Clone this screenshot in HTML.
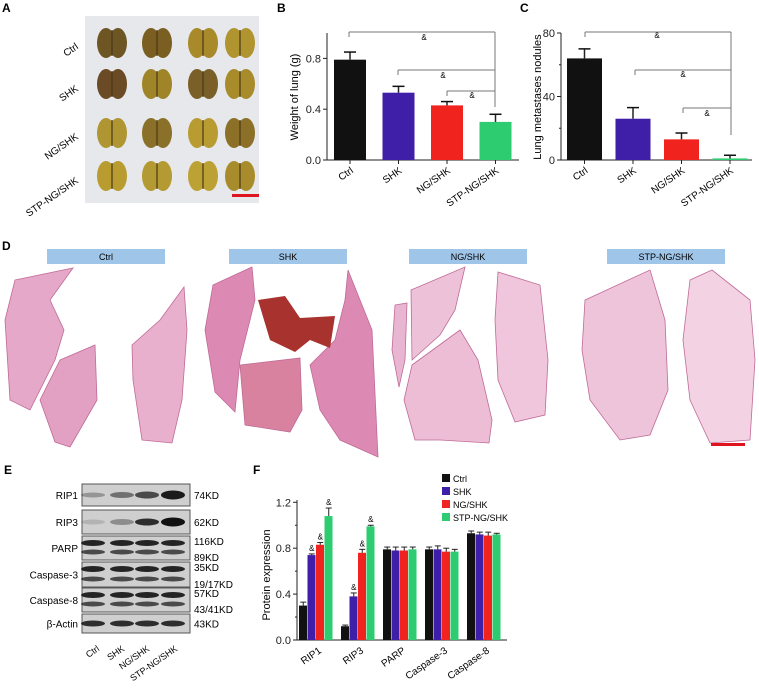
<!DOCTYPE html>
<html><head><meta charset="utf-8"><style>
html,body{margin:0;padding:0;background:#fff;}
svg{display:block;font-family:"Liberation Sans",Arial,sans-serif;}
</style></head><body>
<svg id="fig" width="759" height="694" viewBox="0 0 759 694" xmlns="http://www.w3.org/2000/svg">
<g id="panelA">
<text x="2" y="12" font-size="12" font-weight="bold">A</text>
<rect x="85" y="16" width="174" height="187" fill="#e7e8ec"/>
<g id="lungPhotos"></g>
<rect x="232" y="194" width="27" height="3" fill="#e0141e"/>
<text transform="translate(79,48) rotate(-35)" text-anchor="end" font-size="10">Ctrl</text>
<text transform="translate(79,90) rotate(-35)" text-anchor="end" font-size="10">SHK</text>
<text transform="translate(79,138) rotate(-35)" text-anchor="end" font-size="10">NG/SHK</text>
<text transform="translate(79,182) rotate(-35)" text-anchor="end" font-size="10">STP-NG/SHK</text>
</g>
<g id="panelB"><text x="277" y="12" font-size="12" font-weight="bold">B</text></g>
<g id="panelC"><text x="520" y="12" font-size="12" font-weight="bold">C</text></g>
<g id="panelD">
<text x="2" y="250" font-size="12" font-weight="bold">D</text>
<rect x="47" y="249" width="118" height="15" fill="#9fc5e8"/>
<text x="106" y="260" font-size="9" text-anchor="middle">Ctrl</text>
<rect x="229" y="249" width="118" height="15" fill="#9fc5e8"/>
<text x="288" y="260" font-size="9" text-anchor="middle">SHK</text>
<rect x="409" y="249" width="118" height="15" fill="#9fc5e8"/>
<text x="468" y="260" font-size="9" text-anchor="middle">NG/SHK</text>
<rect x="607" y="249" width="118" height="15" fill="#9fc5e8"/>
<text x="666" y="260" font-size="9" text-anchor="middle">STP-NG/SHK</text>
<g stroke="#c06a98" stroke-width="0.8">
<polygon fill="#e6a8c8" points="15,280 73,268 50,300 64,330 55,360 30,410 10,400 5,320"/>
<polygon fill="#e2a0c2" points="60,360 95,345 97,400 70,447 55,442 40,400"/>
<polygon fill="#e8b0cc" points="184,287 187,330 182,400 172,443 142,440 133,380 132,345 160,320"/>
<polygon fill="#dc8ab3" points="213,285 252,267 255,300 240,360 235,412 215,392 205,330"/>
<polygon fill="#d8829f" points="240,365 300,358 302,410 290,432 245,425"/>
<polygon fill="#dc8ab3" points="348,270 372,330 378,457 340,440 320,410 310,365 335,340 345,300"/>
<polygon fill="#a8322e" stroke="none" points="258,300 285,296 300,318 335,316 330,348 310,340 295,352 270,340"/>
<polygon fill="#e8b6d0" points="395,305 407,303 405,360 399,387 392,350"/>
<polygon fill="#edc2d8" points="411,290 465,267 455,310 440,335 412,360"/>
<polygon fill="#ecbdd5" points="412,365 460,330 478,360 492,420 489,443 440,440 415,440 404,400"/>
<polygon fill="#efc6db" points="498,272 540,285 548,360 545,415 515,422 498,380 495,320"/>
<polygon fill="#eec4da" points="585,300 650,270 665,320 668,390 650,435 620,440 590,400 582,350"/>
<polygon fill="#f3d3e3" points="690,280 712,270 750,300 755,360 750,440 710,443 690,400 683,340"/>
</g>
<rect x="711" y="443" width="34" height="3" fill="#e0141e"/>
</g>
<g id="panelE">
<text x="4" y="474" font-size="12" font-weight="bold">E</text>
<g id="blots"></g>
<text transform="translate(100,650) rotate(-35)" text-anchor="end" font-size="9">Ctrl</text>
<text transform="translate(125,650) rotate(-35)" text-anchor="end" font-size="9">SHK</text>
<text transform="translate(150,650) rotate(-35)" text-anchor="end" font-size="9">NG/SHK</text>
<text transform="translate(178,650) rotate(-35)" text-anchor="end" font-size="9">STP-NG/SHK</text>
</g>
<g id="panelF"><text x="253" y="474" font-size="12" font-weight="bold">F</text></g>
</svg>
<script>
const NS="http://www.w3.org/2000/svg";
function mk(parent,tag,attrs,txt){const e=document.createElementNS(NS,tag);for(const k in attrs)e.setAttribute(k,attrs[k]);if(txt!==undefined)e.textContent=txt;parent.appendChild(e);return e;}

// ---- Panel B data ----
const groupsBC=["Ctrl","SHK","NG/SHK","STP-NG/SHK"];
const colorsBC=["#111111","#3f1ea8","#f0231e","#2ecc71"];
const weightVals=[0.79,0.53,0.43,0.30];
const weightErr=[0.06,0.05,0.03,0.06];
const weightTicks=[0,0.4,0.8];
const weightTickLabels=["0.0","0.4","0.8"];
// ---- Panel C data ----
const noduleVals=[64,26,13,1];
const noduleErr=[6,7,4,2];
const noduleTicks=[0,40,80];
const noduleTickLabels=["0","40","80"];
const noduleMinor=[20,60];
// ---- Panel F data ----
const proteins=["RIP1","RIP3","PARP","Caspase-3","Caspase-8"];
const fSeries=["Ctrl","SHK","NG/SHK","STP-NG/SHK"];
const fCtrl=[0.30,0.12,0.79,0.79,0.93];
const fSHK=[0.74,0.38,0.78,0.79,0.92];
const fNG=[0.83,0.76,0.78,0.77,0.91];
const fSTP=[1.08,0.99,0.79,0.77,0.92];
const fCtrlErr=[0.03,0.01,0.02,0.02,0.02];
const fSHKErr=[0.01,0.03,0.03,0.03,0.02];
const fNGErr=[0.02,0.03,0.03,0.03,0.03];
const fSTPErr=[0.07,0.01,0.02,0.02,0.01];
const fTicks=[0,0.4,0.8,1.2];
const fTickLabels=["0.0","0.4","0.8","1.2"];

function barChart(g,opt){
  const y=v=>opt.y0-(v-opt.vmin)/(opt.vmax-opt.vmin)*(opt.y0-opt.ytop);
  mk(g,"line",{x1:opt.x0,y1:opt.ytop,x2:opt.x0,y2:opt.y0,stroke:"#222","stroke-width":1});
  mk(g,"line",{x1:opt.x0,y1:opt.y0,x2:opt.xend,y2:opt.y0,stroke:"#222","stroke-width":1});
  opt.ticks.forEach((t,i)=>{
    const tk=mk(g,"line",{x1:opt.x0-4,y1:y(t),x2:opt.x0,y2:y(t),stroke:"#222"});
    
    
    const tl=mk(g,"text",{x:opt.x0-6,y:y(t)+4,"text-anchor":"end","font-size":11,fill:"#222"},opt.labels[i]);
    
    
  });
  (opt.minor||[]).forEach(t=>{mk(g,"line",{x1:opt.x0-2,y1:y(t),x2:opt.x0,y2:y(t),stroke:"#222"});});
  return y;
}

// Panel B
(function(){
  const g=document.getElementById("panelB");
  const x0=327,bw=32,pitch=48.5,start=334;
  const y=barChart(g,{x0:x0,y0:160,ytop:33,xend:519,vmin:0,vmax:1.0,ticks:weightTicks,labels:weightTickLabels});
  weightVals.forEach((v,i)=>{
    const bx=start+i*pitch, cx=bx+bw/2;
    const r=mk(g,"rect",{x:bx,y:y(v),width:bw,height:160-y(v),fill:colorsBC[i]});
    
    
    mk(g,"line",{x1:cx,y1:y(v),x2:cx,y2:y(v+weightErr[i]),stroke:"#222","stroke-width":1.5});
    mk(g,"line",{x1:cx-6,y1:y(v+weightErr[i]),x2:cx+6,y2:y(v+weightErr[i]),stroke:"#111","stroke-width":1.5});
    mk(g,"line",{x1:cx,y1:160,x2:cx,y2:164,stroke:"#222"});
    const t=mk(g,"text",{transform:`translate(${cx+4},${172}) rotate(-35)`,"text-anchor":"end","font-size":10},groupsBC[i]);
    
    
  });
  const yl=mk(g,"text",{transform:"translate(298,97) rotate(-90)","text-anchor":"middle","font-size":11},"Weight of lung (g)");
  
  
  const br=[[349,32,424,40],[398,70,443,78],[447,91,472,98]];
  br.forEach(b=>{mk(g,"line",{x1:b[0],y1:b[1],x2:495,y2:b[1],stroke:"#777"});mk(g,"line",{x1:b[0],y1:b[1],x2:b[0],y2:b[1]+5,stroke:"#777"});mk(g,"text",{x:b[2],y:b[3],"font-size":8,"text-anchor":"middle"},"&");});
  mk(g,"line",{x1:495,y1:32,x2:495,y2:107,stroke:"#777"});
})();

// Panel C
(function(){
  const g=document.getElementById("panelC");
  const x0=561,bw=35,pitch=48.5,start=567;
  const y=barChart(g,{x0:x0,y0:160,ytop:33,xend:752,vmin:0,vmax:80,ticks:noduleTicks,labels:noduleTickLabels,minor:noduleMinor});
  noduleVals.forEach((v,i)=>{
    const bx=start+i*pitch, cx=bx+bw/2;
    const r=mk(g,"rect",{x:bx,y:y(v),width:bw,height:160-y(v),fill:colorsBC[i]});
    
    
    mk(g,"line",{x1:cx,y1:y(v),x2:cx,y2:y(v+noduleErr[i]),stroke:"#222","stroke-width":1.5});
    mk(g,"line",{x1:cx-6,y1:y(v+noduleErr[i]),x2:cx+6,y2:y(v+noduleErr[i]),stroke:"#111","stroke-width":1.5});
    mk(g,"line",{x1:cx,y1:160,x2:cx,y2:164,stroke:"#222"});
    const t=mk(g,"text",{transform:`translate(${cx+4},${172}) rotate(-35)`,"text-anchor":"end","font-size":10},groupsBC[i]);
    
    
  });
  const yl=mk(g,"text",{transform:"translate(541,97) rotate(-90)","text-anchor":"middle","font-size":11},"Lung metastases nodules");
  
  
  const br=[[585,32,657,38],[635,70,683,77],[683,108,707,116]];
  br.forEach(b=>{mk(g,"line",{x1:b[0],y1:b[1],x2:731,y2:b[1],stroke:"#777"});mk(g,"line",{x1:b[0],y1:b[1],x2:b[0],y2:b[1]+5,stroke:"#777"});mk(g,"text",{x:b[2],y:b[3],"font-size":8,"text-anchor":"middle"},"&");});
  mk(g,"line",{x1:731,y1:32,x2:731,y2:135,stroke:"#777"});
})();

// Panel F
(function(){
  const g=document.getElementById("panelF");
  const y=barChart(g,{x0:297,y0:640,ytop:500,xend:507,vmin:0,vmax:1.22,ticks:fTicks,labels:fTickLabels,minor:[0.2,0.6,1.0]});
  const series=[fCtrl,fSHK,fNG,fSTP], errs=[fCtrlErr,fSHKErr,fNGErr,fSTPErr];
  const bw=8.5,pitch=42,start=299;
  proteins.forEach((p,gi)=>{
    series.forEach((s,si)=>{
      const bx=start+gi*pitch+si*bw, cx=bx+bw/2, v=s[gi], e=errs[si][gi];
      const r=mk(g,"rect",{x:bx,y:y(v),width:bw-0.5,height:640-y(v),fill:colorsBC[si]});
      
      
      mk(g,"line",{x1:cx,y1:y(v),x2:cx,y2:y(v+e),stroke:"#222"});
      mk(g,"line",{x1:cx-3,y1:y(v+e),x2:cx+3,y2:y(v+e),stroke:"#222"});
      if(gi<2 && si>0) mk(g,"text",{x:cx,y:y(v+e)-3,"font-size":8,"text-anchor":"middle"},"&");
    });
    const cx=start+gi*pitch+17;
    const t=mk(g,"text",{transform:`translate(${cx+6},${652}) rotate(-35)`,"text-anchor":"end","font-size":10},p);
    
    
  });
  const yl=mk(g,"text",{transform:"translate(270,575) rotate(-90)","text-anchor":"middle","font-size":11},"Protein expression");
  
  
  fSeries.forEach((s,i)=>{
    const r=mk(g,"rect",{x:442,y:474+i*13,width:8,height:8,fill:colorsBC[i]});
    
    
    const t=mk(g,"text",{x:453,y:482+i*13,"font-size":9},s);
    
    
  });
})();

// Panel A lung photos
(function(){
  const g=document.getElementById("lungPhotos");
  const cols=[112,157,203,240], rows=[42,83,132,175];
  const shades=[["#6e5524","#7a5e22","#a88a2a","#b09430"],["#6b4a26","#a08528","#7a6028","#a88c2c"],["#b09632","#8a7028","#b89c32","#8c7028"],["#b89c30","#b49a32","#bca234","#a88c2c"]];
  rows.forEach((ry,ri)=>cols.forEach((cx,ci)=>{
    const e=mk(g,"ellipse",{cx:cx-6,cy:ry+1,rx:9,ry:15,fill:shades[ri][ci]});
    
    
    const e2=mk(g,"ellipse",{cx:cx+6,cy:ry+1,rx:9,ry:15,fill:shades[ri][ci]});
    
    
    mk(g,"line",{x1:cx,y1:ry-12,x2:cx,y2:ry+14,stroke:"#4a3816","stroke-width":1.2});
  }));
})();

// Panel E blots
(function(){
  const g=document.getElementById("blots");
  const rowNames=["RIP1","RIP3","PARP","Caspase-3","Caspase-8","β-Actin"];
  const rowTop=[484,510,536,562,588,614], rowH=[22,24,24,25,24,19];
  const kd=[["74KD"],["62KD"],["116KD","89KD"],["35KD","19/17KD"],["57KD","43/41KD"],["43KD"]];
  const lanes=[93,122,147,173];
  const bands=[[[0.3,3],[0.5,4],[0.7,5],[0.95,7]],[[0.15,3],[0.35,4],[0.85,5],[1,7]],null,null,null,[[0.85,4],[0.85,4],[0.85,4],[0.85,4]]];
  rowNames.forEach((n,ri)=>{
    const top=rowTop[ri],h=rowH[ri];
    const r=mk(g,"rect",{x:82,y:top,width:108,height:h,fill:"#cfcfcf",stroke:"#555","stroke-width":1});
    
    
    const t=mk(g,"text",{x:78,y:top+h/2+4,"text-anchor":"end","font-size":10},n);
    
    
    if(kd[ri].length===1){mk(g,"text",{x:194,y:top+h/2+4,"font-size":10},kd[ri][0]);}
    else{mk(g,"text",{x:194,y:top+9,"font-size":10},kd[ri][0]);mk(g,"text",{x:194,y:top+h+1,"font-size":10},kd[ri][1]);}
    lanes.forEach((lx,li)=>{
      if(bands[ri]){const b=bands[ri][li];mk(g,"ellipse",{cx:lx,cy:top+h/2,rx:12,ry:b[1]/2+1,fill:"#111","fill-opacity":b[0]});}
      else{mk(g,"ellipse",{cx:lx,cy:top+7,rx:12,ry:3,fill:"#111","fill-opacity":0.9});mk(g,"ellipse",{cx:lx,cy:top+h-8,rx:12,ry:2.5,fill:"#111","fill-opacity":0.7});}
    });
  });
})();
</script>
</body></html>
